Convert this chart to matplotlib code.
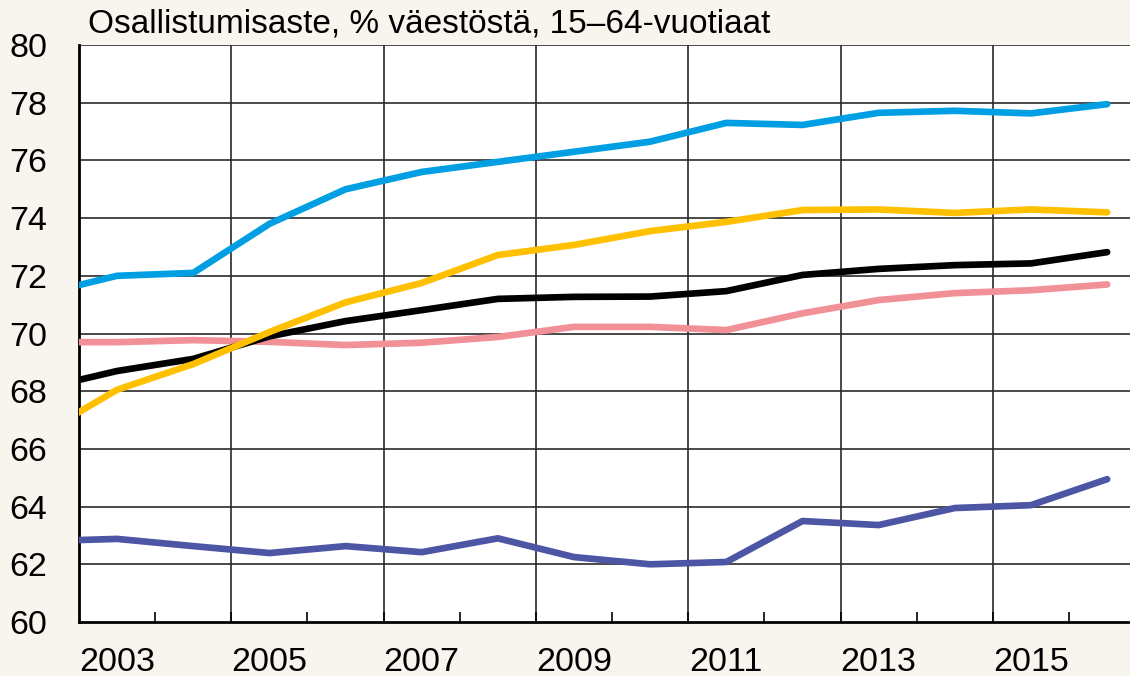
import matplotlib.pyplot as plt

# vuosiarvot keskellä vuotta (2002.5 ... 2016.5), ensimmäinen leikkautuu pois
years = [2002.5, 2003.5, 2004.5, 2005.5, 2006.5, 2007.5, 2008.5, 2009.5,
         2010.5, 2011.5, 2012.5, 2013.5, 2014.5, 2015.5, 2016.5]

sininen = [71.36, 72.0, 72.1, 73.8, 75.0, 75.6, 75.95, 76.3,
           76.65, 77.3, 77.23, 77.65, 77.72, 77.63, 77.95]
keltainen = [66.5, 68.05, 68.94, 70.05, 71.08, 71.75, 72.72, 73.07,
             73.55, 73.87, 74.28, 74.3, 74.18, 74.3, 74.2]
musta = [68.08, 68.7, 69.12, 69.9, 70.43, 70.81, 71.2, 71.27,
         71.28, 71.47, 72.03, 72.24, 72.37, 72.43, 72.82]
pinkki = [69.7, 69.7, 69.77, 69.71, 69.6, 69.68, 69.88, 70.23,
          70.23, 70.12, 70.7, 71.16, 71.4, 71.5, 71.7]
tummansininen = [62.8, 62.88, 62.63, 62.39, 62.63, 62.42, 62.9, 62.25,
                 62.0, 62.08, 63.5, 63.36, 63.95, 64.05, 64.95]

label_years = [2003, 2005, 2007, 2009, 2011, 2013, 2015]
y_ticks = [60, 62, 64, 66, 68, 70, 72, 74, 76, 78, 80]

bg = "#f8f4ee"
plt.rcParams['font.family'] = ['Liberation Sans', 'DejaVu Sans']

fig = plt.figure(figsize=(11.3, 6.76), dpi=100, facecolor=bg)
ax = fig.add_axes([0.0699, 0.0799, 0.9301, 0.8535])
ax.set_facecolor("white")

ax.set_xlim(2003, 2016.8)
ax.set_ylim(60, 80)

# ruudukko
for y in y_ticks[1:]:
    ax.axhline(y, color="#2a2a2a", lw=1.2, zorder=1)
for x in label_years[1:]:
    ax.axvline(x, color="#2a2a2a", lw=1.2, zorder=1)

lw = 4.8
ax.plot(years, tummansininen, color="#4d56a5", lw=lw, solid_capstyle="round", zorder=3)
ax.plot(years, pinkki, color="#f29098", lw=lw, solid_capstyle="round", zorder=3)
ax.plot(years, musta, color="black", lw=lw, solid_capstyle="round", zorder=3)
ax.plot(years, keltainen, color="#ffc000", lw=lw, solid_capstyle="round", zorder=3)
ax.plot(years, sininen, color="#009fe3", lw=lw, solid_capstyle="round", zorder=3)

for s in ["top", "right"]:
    ax.spines[s].set_visible(False)
ax.spines["left"].set_linewidth(2)
ax.spines["bottom"].set_linewidth(2)

ax.set_yticks(y_ticks)
ax.tick_params(axis="y", length=0, pad=23, labelsize=24.5)

ax.set_xticks([y + 0.5 for y in label_years])
ax.set_xticklabels([str(y) for y in label_years])
ax.set_xticks(list(range(2004, 2017)), minor=True)
ax.tick_params(axis="x", which="major", length=0, pad=18, labelsize=24.5)
ax.tick_params(axis="x", which="minor", direction="in", length=7, width=1.2)

fig.text(0.078, 0.9645, "Osallistumisaste, % väestöstä, 15–64-vuotiaat",
         fontsize=24, va="center", ha="left")

fig.savefig("out.png", dpi=100, facecolor=bg)
